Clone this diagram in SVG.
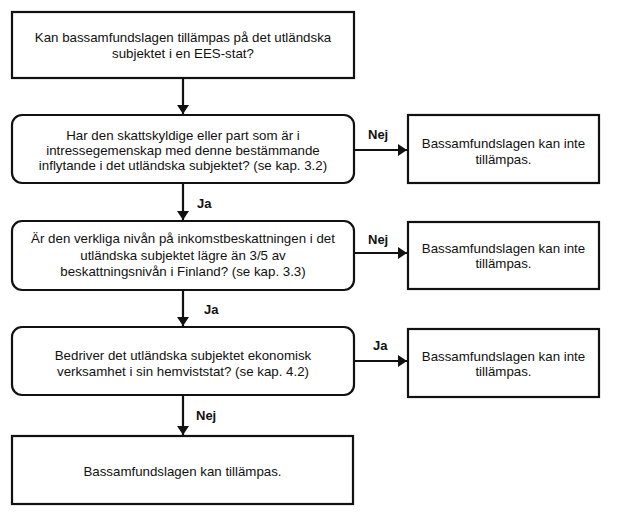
<svg xmlns="http://www.w3.org/2000/svg" width="617" height="521" viewBox="0 0 617 521">
<style>
.box{fill:#fff;stroke:#111;stroke-width:2.2}
.t{font-family:"Liberation Sans",Arial,sans-serif;font-size:13.3px;fill:#111;text-anchor:middle}
.lbl{font-family:"Liberation Sans",Arial,sans-serif;font-size:13px;font-weight:bold;fill:#111}
.c{stroke:#111;stroke-width:2.2;fill:none}
</style>
<defs>
<marker id="ah" markerUnits="userSpaceOnUse" markerWidth="10" markerHeight="12" refX="9" refY="6" orient="auto">
<path d="M0,0 L9,6 L0,12 Z" fill="#111"/>
</marker>
</defs>
<rect width="617" height="521" fill="#fff"/>
<g id="connectors">
<line class="c" x1="183" y1="78" x2="183" y2="114" marker-end="url(#ah)"/>
<line class="c" x1="183" y1="183" x2="183" y2="220" marker-end="url(#ah)"/>
<line class="c" x1="183" y1="290" x2="183" y2="326" marker-end="url(#ah)"/>
<line class="c" x1="183" y1="395" x2="183" y2="435" marker-end="url(#ah)"/>
<line class="c" x1="354" y1="150" x2="407" y2="150" marker-end="url(#ah)"/>
<line class="c" x1="354" y1="253" x2="407" y2="253" marker-end="url(#ah)"/>
<line class="c" x1="354" y1="361" x2="407" y2="361" marker-end="url(#ah)"/>
<text class="lbl" x="368" y="139">Nej</text>
<text class="lbl" x="368" y="244">Nej</text>
<text class="lbl" x="373" y="350">Ja</text>
<text class="lbl" x="197" y="208">Ja</text>
<text class="lbl" x="204" y="314">Ja</text>
<text class="lbl" x="196" y="420">Nej</text>
</g>
<g id="start">
<rect class="box" x="12" y="12" width="342" height="66"/>
<text class="t" x="183" y="42">Kan bassamfundslagen tillämpas på det utländska</text>
<text class="t" x="183" y="57.5">subjektet i en EES-stat?</text>
</g>
<g id="q1">
<rect class="box" x="12" y="115" width="342" height="68" rx="10"/>
<text class="t" x="183" y="139.5">Har den skattskyldige eller part som är i</text>
<text class="t" x="183" y="154.5">intressegemenskap med denne bestämmande</text>
<text class="t" x="183" y="169.5">inflytande i det utländska subjektet? (se kap. 3.2)</text>
</g>
<g id="q2">
<rect class="box" x="12" y="221" width="342" height="69" rx="10"/>
<text class="t" x="183" y="243">Är den verkliga nivån på inkomstbeskattningen i det</text>
<text class="t" x="183" y="259.5">utländska subjektet lägre än 3/5 av</text>
<text class="t" x="183" y="275.5">beskattningsnivån i Finland? (se kap. 3.3)</text>
</g>
<g id="q3">
<rect class="box" x="12" y="327" width="342" height="68" rx="10"/>
<text class="t" x="183" y="359.5">Bedriver det utländska subjektet ekonomisk</text>
<text class="t" x="183" y="375.5">verksamhet i sin hemviststat? (se kap. 4.2)</text>
</g>
<g id="end">
<rect class="box" x="12" y="436" width="341" height="68"/>
<text class="t" x="182.5" y="476">Bassamfundslagen kan tillämpas.</text>
</g>
<g id="r1">
<rect class="box" x="408" y="115" width="191" height="68"/>
<text class="t" x="503.5" y="147.5">Bassamfundslagen kan inte</text>
<text class="t" x="503.5" y="163.5">tillämpas.</text>
</g>
<g id="r2">
<rect class="box" x="408" y="222" width="191" height="67"/>
<text class="t" x="503.5" y="252.5">Bassamfundslagen kan inte</text>
<text class="t" x="503.5" y="267.5">tillämpas.</text>
</g>
<g id="r3">
<rect class="box" x="408" y="329" width="191" height="68"/>
<text class="t" x="503.5" y="360.5">Bassamfundslagen kan inte</text>
<text class="t" x="503.5" y="375.5">tillämpas.</text>
</g>
</svg>
